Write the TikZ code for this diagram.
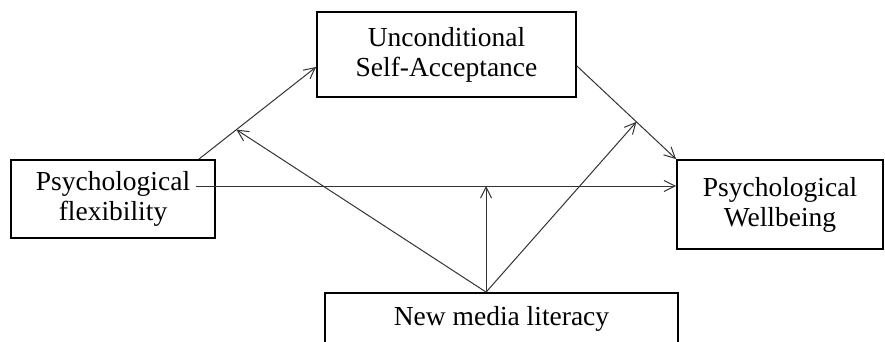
\documentclass[tikz,border=0pt]{standalone}
\usepackage{fontspec}
\setmainfont{Liberation Serif}
\usetikzlibrary{positioning, arrows.meta, calc}

\begin{document}
\begin{tikzpicture}[x=1pt, y=-1pt,
    box/.style={draw, line width=1.8pt, align=center, inner sep=0pt, font=\fontsize{27.5}{30}\selectfont},
    link/.style={-{Straight Barb[length=11pt, width=11pt]}, line width=1pt, black!80}]
    \useasboundingbox (0,0) rectangle (885,341);
    % Variables
    \node[box, minimum width=204pt, minimum height=78pt] (flex) at (113,199) {Psychological\\flexibility};
    \node[box, minimum width=259pt, minimum height=85pt] (usa) at (446.5,54.5) {Unconditional\\Self-Acceptance};
    \node[box, minimum width=206pt, minimum height=89pt] (pwb) at (780,204.5) {Psychological\\Wellbeing};
    \node[box, minimum width=353pt, minimum height=51pt] (nml) at (501.5,318.5) {New media literacy};

    % Mediation paths
    \coordinate (a1) at ($(flex.north east)+(-17,0)$);
    \coordinate (a2) at ($(usa.west)+(0,12.5)$);
    \draw[link] (a1) -- (a2);
    \coordinate (b1) at ($(usa.east)+(0,11.5)$);
    \draw[link] (b1) -- (pwb.north west);
    \coordinate (c1) at ($(flex.east)+(-20,-13)$);
    \draw[link] (c1) -- (c1 -| pwb.west); % Direct path

    % Moderator
    \coordinate (m) at ($(nml.north west)+(162,0)$);
    \draw[link] (m) -- (m |- c1);
    \draw[link] (m) -- ($(a1)!0.32!(a2)$);
    \draw[link] (m) -- ($(b1)!0.6!(pwb.north west)$);
\end{tikzpicture}
\end{document}
